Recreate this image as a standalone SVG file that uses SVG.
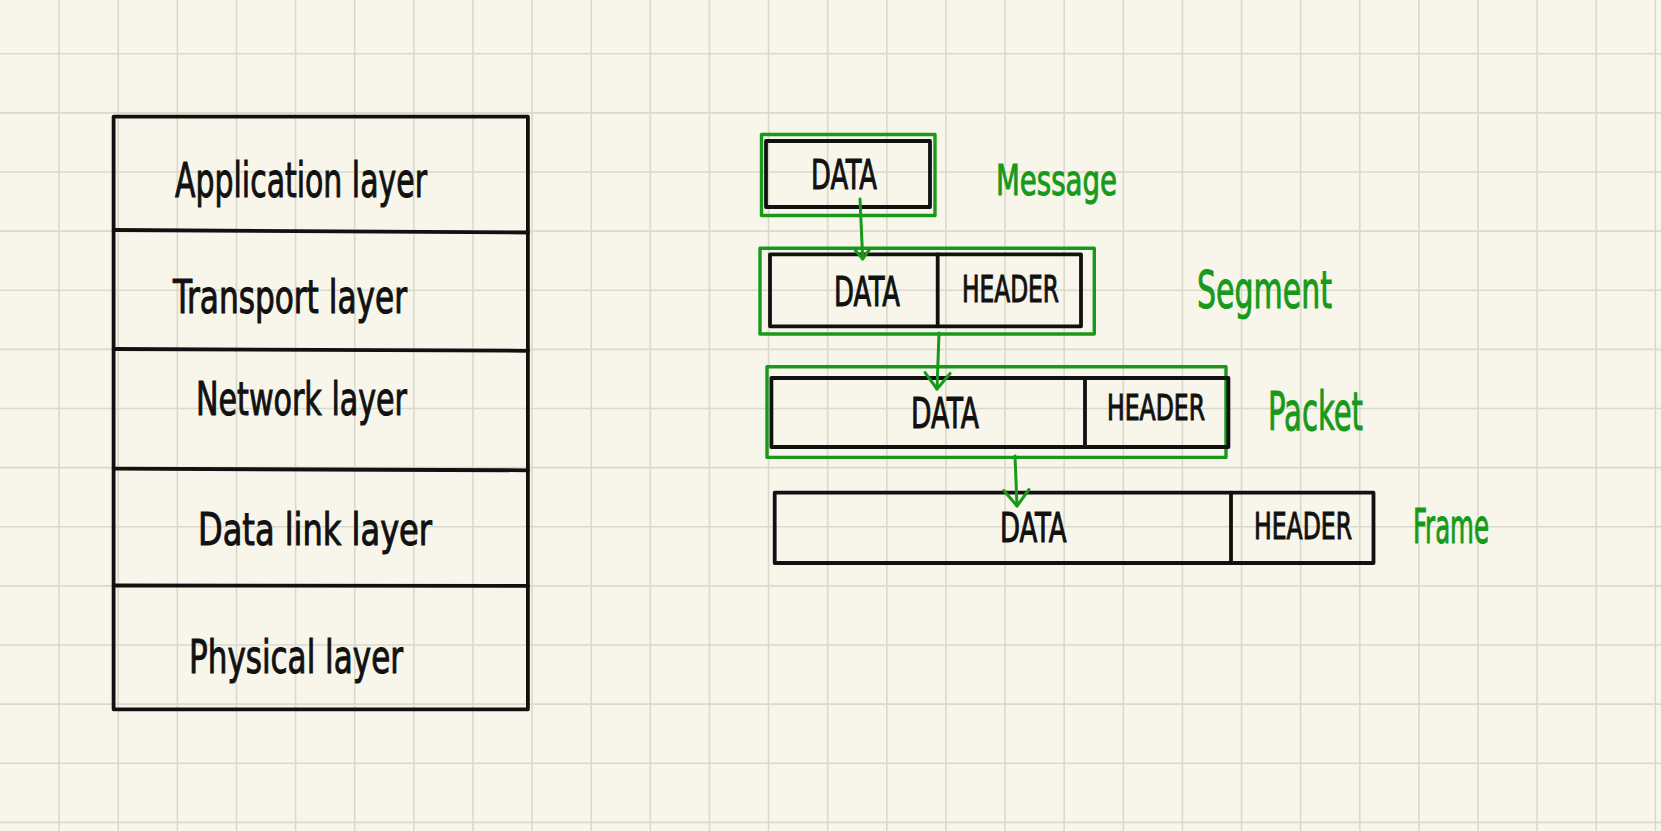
<svg xmlns="http://www.w3.org/2000/svg" width="1661" height="831" viewBox="0 0 1661 831">
<defs>
<style>
.grid{stroke:#dbd9cc;stroke-width:1.6;fill:none}
.blk{fill:none;stroke:#111;stroke-width:3.8;stroke-linejoin:round;stroke-linecap:round}
.grn{fill:none;stroke:#17991a;stroke-width:3.4;stroke-linejoin:round}
.hand{font-family:"Liberation Sans Narrow","DejaVu Sans Condensed","Liberation Sans",sans-serif;fill:#111;stroke:#111;stroke-width:1}
.lbl{font-family:"Liberation Sans Narrow","DejaVu Sans Condensed","Liberation Sans",sans-serif;fill:#17991a;stroke:#17991a;stroke-width:1}
.arr{fill:none;stroke:#17991a;stroke-width:3;stroke-linecap:round}
</style>
<marker id="hs" markerUnits="userSpaceOnUse" markerWidth="30" markerHeight="30" refX="0" refY="0" orient="auto" viewBox="-15 -15 30 30" overflow="visible">
<path d="M-9,-7 L0,0 L-9,7" fill="none" stroke="#17991a" stroke-width="3" stroke-linecap="round" stroke-linejoin="round"/>
</marker>
<marker id="hl" markerUnits="userSpaceOnUse" markerWidth="40" markerHeight="40" refX="0" refY="0" orient="auto" viewBox="-20 -20 40 40" overflow="visible">
<path d="M-16,-12.5 L0,0 L-16,12.5" fill="none" stroke="#17991a" stroke-width="3" stroke-linecap="round" stroke-linejoin="round"/>
</marker>
</defs>
<rect x="0" y="0" width="1661" height="831" fill="#f8f6ea"/>
<g id="grid">
<path class="grid" d="M59.12,0V831M118.24,0V831M177.36,0V831M236.48,0V831M295.6,0V831M354.72,0V831M413.84,0V831M472.96,0V831M532.08,0V831M591.2,0V831M650.32,0V831M709.44,0V831M768.56,0V831M827.68,0V831M886.8,0V831M945.92,0V831M1005.04,0V831M1064.16,0V831M1123.28,0V831M1182.4,0V831M1241.52,0V831M1300.64,0V831M1359.76,0V831M1418.88,0V831M1478,0V831M1537.12,0V831M1596.24,0V831M1655.36,0V831"/>
<path class="grid" d="M0,53.8H1661M0,112.92H1661M0,172.04H1661M0,231.16H1661M0,290.28H1661M0,349.4H1661M0,408.52H1661M0,467.64H1661M0,526.76H1661M0,585.88H1661M0,645H1661M0,704.12H1661M0,763.24H1661M0,822.36H1661"/>
</g>
<g id="layer-stack">
<rect class="blk" x="113.6" y="116.7" width="414.3" height="592.6"/>
<path class="blk" d="M113.6,230 L527.9,232.5M113.6,349 L527.9,350.8M113.6,468.7 L527.9,470.3M113.6,585.5 L527.9,585.8"/>
</g>
<g id="application-layer"><text class="hand" x="175" y="197" font-size="48" textLength="252" lengthAdjust="spacingAndGlyphs">Application layer</text></g>
<g id="transport-layer"><text class="hand" x="173" y="313" font-size="46" textLength="234" lengthAdjust="spacingAndGlyphs">Transport layer</text></g>
<g id="network-layer"><text class="hand" x="196" y="415" font-size="46" textLength="211" lengthAdjust="spacingAndGlyphs">Network layer</text></g>
<g id="data-link-layer"><text class="hand" x="198" y="545" font-size="44" textLength="234" lengthAdjust="spacingAndGlyphs">Data link layer</text></g>
<g id="physical-layer"><text class="hand" x="189" y="673" font-size="47" textLength="214" lengthAdjust="spacingAndGlyphs">Physical layer</text></g>

<g id="message">
<rect class="grn" x="761.5" y="134.5" width="173.5" height="81"/>
<rect class="blk" x="766" y="141" width="164" height="66"/>
<text class="hand" x="811" y="189" font-size="41" textLength="66" lengthAdjust="spacingAndGlyphs">DATA</text>
<text class="lbl" x="996" y="195" font-size="42" textLength="121" lengthAdjust="spacingAndGlyphs">Message</text>
</g>
<g id="segment">
<rect class="grn" x="760" y="248.3" width="334.3" height="85.7"/>
<rect class="blk" x="770" y="254.3" width="311" height="72"/>
<path class="blk" d="M937.7,254.3V326.3"/>
<text class="hand" x="834" y="305.5" font-size="40" textLength="66" lengthAdjust="spacingAndGlyphs">DATA</text>
<text class="hand" x="962" y="301.5" font-size="37" textLength="97" lengthAdjust="spacingAndGlyphs">HEADER</text>
<text class="lbl" x="1197" y="308" font-size="52" textLength="135" lengthAdjust="spacingAndGlyphs">Segment</text>
</g>
<g id="packet">
<rect class="grn" x="767" y="366.7" width="459" height="90.7"/>
<rect class="blk" x="771.4" y="378" width="457" height="69"/>
<path class="blk" d="M1085,378V447"/>
<text class="hand" x="911" y="428" font-size="43" textLength="68" lengthAdjust="spacingAndGlyphs">DATA</text>
<text class="hand" x="1107" y="420" font-size="35" textLength="98" lengthAdjust="spacingAndGlyphs">HEADER</text>
<text class="lbl" x="1268" y="430" font-size="54" textLength="95" lengthAdjust="spacingAndGlyphs">Packet</text>
</g>
<g id="frame">
<rect class="blk" x="774.7" y="492.7" width="598.8" height="70.3"/>
<path class="blk" d="M1231,492.7V563"/>
<text class="hand" x="1000" y="542" font-size="41" textLength="66.5" lengthAdjust="spacingAndGlyphs">DATA</text>
<text class="hand" x="1254" y="539" font-size="37" textLength="98" lengthAdjust="spacingAndGlyphs">HEADER</text>
<text class="lbl" x="1413" y="543" font-size="48" textLength="76" lengthAdjust="spacingAndGlyphs">Frame</text>
</g>

<g id="connectors">
<path class="arr" d="M860,199 L862.7,259" marker-end="url(#hs)"/>
<path class="arr" d="M939,333 L937,389" marker-end="url(#hl)"/>
<path class="arr" d="M1015,456 L1017,506" marker-end="url(#hl)"/>
</g>
</svg>
